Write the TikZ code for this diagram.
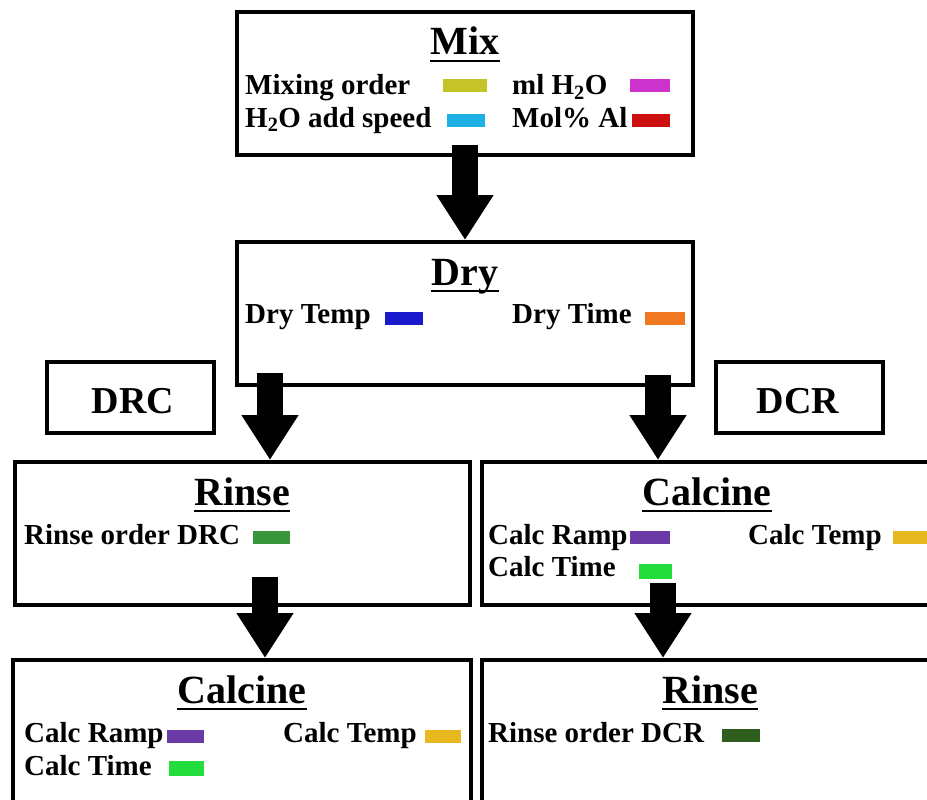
\documentclass[tikz,border=0pt]{standalone}
\usepackage{fontspec}
\setmainfont{Liberation Serif}
\usetikzlibrary{arrows.meta}
\definecolor{mixc}{RGB}{196,196,40}
\definecolor{mlc}{RGB}{204,51,204}
\definecolor{spc}{RGB}{30,176,226}
\definecolor{alc}{RGB}{204,16,16}
\definecolor{dtc}{RGB}{26,26,204}
\definecolor{dtic}{RGB}{240,120,32}
\definecolor{rdrcc}{RGB}{58,150,58}
\definecolor{rampc}{RGB}{106,58,166}
\definecolor{ctempc}{RGB}{232,184,32}
\definecolor{ctimec}{RGB}{34,221,60}
\definecolor{rdcrc}{RGB}{46,94,30}
\tikzset{
  box/.style={draw=black, line width=4pt, fill=white, inner sep=0pt},
  ttl/.style={anchor=base, inner sep=0pt, font=\bfseries\fontsize{40}{44}\selectfont},
  lbl/.style={anchor=base, inner sep=0pt, font=\bfseries\fontsize{38}{42}\selectfont},
  item/.style={anchor=base west, inner sep=0pt, font=\bfseries\fontsize{29}{32}\selectfont},
  swatch/.style={draw=none, inner sep=0pt, minimum height=13pt},
  bigarrow/.style={line width=26pt, -{Triangle[width=54pt,length=45pt]}},
  uline/.style={line width=2.5pt}
}
\begin{document}
\begin{tikzpicture}[x=1pt,y=-1pt]
\useasboundingbox (0,0) rectangle (927,800);
\clip (0,0) rectangle (927,800);
\fill[white] (0,0) rectangle (927,800);
% boxes
\node[box, minimum width=456pt, minimum height=143pt] (mix) at (465,83.5) {};
\node[box, minimum width=456pt, minimum height=143pt] (dry) at (465,313.5) {};
\node[box, minimum width=167pt, minimum height=71pt] (drcb) at (130.5,397.5) {};
\node[box, minimum width=167pt, minimum height=71pt] (dcrb) at (799.5,397.5) {};
\node[box, minimum width=455pt, minimum height=143pt] (rinse1) at (242.5,533.5) {};
\node[box, minimum width=452pt, minimum height=143pt] (calc1) at (708,533.5) {};
\node[box, minimum width=458pt, minimum height=160pt] (calc2) at (242,740) {};
\node[box, minimum width=456pt, minimum height=160pt] (rinse2) at (710,740) {};
% arrows
\draw[bigarrow] ([yshift=12pt]mix.south) -- (dry.north);
\coordinate (al) at (270,373);
\coordinate (ar) at (658,375);
\draw[bigarrow] (al) -- (al |- rinse1.north);
\draw[bigarrow] (ar) -- (ar |- calc1.north);
\coordinate (bl) at (265,577);
\coordinate (br) at (663,583);
\draw[bigarrow] (bl) -- (bl |- calc2.north);
\draw[bigarrow] (br) -- (br |- rinse2.north);
% titles
\node[ttl] (tmix) at (465,55) {Mix};
\node[ttl] (tdry) at (465,285) {Dry};
\node[ttl] (trin1) at (242,505) {Rinse};
\node[ttl] (tcal1) at (707,505) {Calcine};
\node[ttl] (tcal2) at (242,703) {Calcine};
\node[ttl] (trin2) at (710,703) {Rinse};
\foreach \t in {tmix,tdry,trin1,tcal1,tcal2,trin2}
  \draw[uline] ([yshift=-6pt]\t.base west) -- ([yshift=-6pt]\t.base east);
\node[lbl] (drc) at (133,413) {DRC};
\node[lbl] (dcr) at (798,413) {DCR};
% Mix items
\node[item] (m1) at (245,95) {Mixing order};
\node[swatch, fill=mixc, minimum width=44pt] (ms1) at (464.5,86) {};
\node[item] (m2) at (512,95) {ml H\textsubscript{2}O};
\node[swatch, fill=mlc, minimum width=40pt] (ms2) at (650,86) {};
\node[item] (m3) at (245,127) {H\textsubscript{2}O add speed};
\node[swatch, fill=spc, minimum width=38pt] (ms3) at (466,120) {};
\node[item] (m4) at (512,127) {Mol\% Al};
\node[swatch, fill=alc, minimum width=38pt] (ms4) at (651,120) {};
% Dry items
\node[item] (d1) at (245,323) {Dry Temp};
\node[swatch, fill=dtc, minimum width=38pt] (ds1) at (404,318) {};
\node[item] (d2) at (512,323) {Dry Time};
\node[swatch, fill=dtic, minimum width=40pt] (ds2) at (665,318) {};
% Rinse DRC
\node[item] (r1) at (24,544) {Rinse order DRC};
\node[swatch, fill=rdrcc, minimum width=37pt] (rs1) at (271,537) {};
% Calcine right
\node[item] (c1) at (488,544) {Calc Ramp};
\node[swatch, fill=rampc, minimum width=40pt] (cs1) at (650,537) {};
\node[item] (c2) at (748,544) {Calc Temp};
\node[swatch, fill=ctempc, minimum width=40pt] (cs2) at (913,537) {};
\node[item] (c3) at (488,576) {Calc Time};
\node[swatch, fill=ctimec, minimum width=33pt, minimum height=15pt] (cs3) at (655,571) {};
% Calcine bottom left
\node[item] (e1) at (24,742) {Calc Ramp};
\node[swatch, fill=rampc, minimum width=37pt] (es1) at (185,736) {};
\node[item] (e2) at (283,742) {Calc Temp};
\node[swatch, fill=ctempc, minimum width=36pt] (es2) at (443,736) {};
\node[item] (e3) at (24,775) {Calc Time};
\node[swatch, fill=ctimec, minimum width=35pt, minimum height=15pt] (es3) at (186,768) {};
% Rinse DCR
\node[item] (f1) at (488,742) {Rinse order DCR};
\node[swatch, fill=rdcrc, minimum width=38pt] (fs1) at (741,735) {};
\end{tikzpicture}
\end{document}
